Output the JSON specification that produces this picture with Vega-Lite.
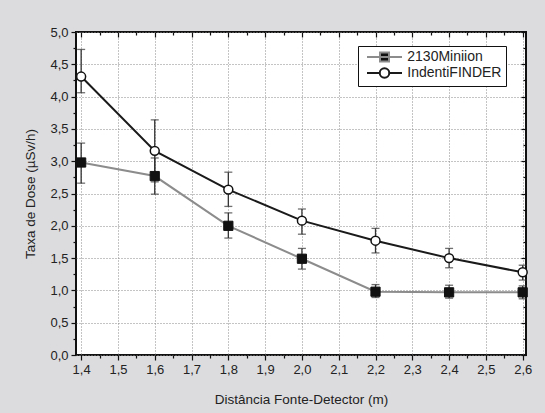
{
  "$schema": "https://vega.github.io/schema/vega-lite/v6.json",
  "width": 450,
  "height": 323,
  "autosize": {"type": "none"},
  "padding": {"left": 76, "top": 32, "right": 19, "bottom": 58},
  "background": "#dcdcde",
  "config": {
    "view": {"fill": "white", "stroke": "#111", "strokeWidth": 2},
    "font": "Liberation Sans",
    "axis": {"labelFont": "Liberation Sans", "titleFont": "Liberation Sans", "labelFontSize": 13, "titleFontSize": 13.5, "labelColor": "#222", "titleColor": "#222", "titleFontWeight": "normal", "tickColor": "#111", "tickWidth": 1.2, "domain": false}
  },
  "data": {"values": [
    {"series": "2130Miniion", "x": 1.4, "y": 2.98, "lo": 2.66, "hi": 3.28},
    {"series": "2130Miniion", "x": 1.6, "y": 2.77, "lo": 2.49, "hi": 3.05},
    {"series": "2130Miniion", "x": 1.8, "y": 2.0, "lo": 1.81, "hi": 2.2},
    {"series": "2130Miniion", "x": 2.0, "y": 1.49, "lo": 1.33, "hi": 1.65},
    {"series": "2130Miniion", "x": 2.2, "y": 0.98, "lo": 0.89, "hi": 1.09},
    {"series": "2130Miniion", "x": 2.4, "y": 0.97, "lo": 0.88, "hi": 1.08},
    {"series": "2130Miniion", "x": 2.6, "y": 0.97, "lo": 0.87, "hi": 1.07},
    {"series": "IndentiFINDER", "x": 1.4, "y": 4.31, "lo": 4.06, "hi": 4.73},
    {"series": "IndentiFINDER", "x": 1.6, "y": 3.16, "lo": 2.68, "hi": 3.64},
    {"series": "IndentiFINDER", "x": 1.8, "y": 2.56, "lo": 2.3, "hi": 2.83},
    {"series": "IndentiFINDER", "x": 2.0, "y": 2.08, "lo": 1.87, "hi": 2.26},
    {"series": "IndentiFINDER", "x": 2.2, "y": 1.77, "lo": 1.58, "hi": 1.96},
    {"series": "IndentiFINDER", "x": 2.4, "y": 1.5, "lo": 1.35, "hi": 1.65},
    {"series": "IndentiFINDER", "x": 2.6, "y": 1.28, "lo": 1.16, "hi": 1.39}
  ]},
  "resolve": {"axis": {"x": "independent", "y": "independent"}},
  "layer": [
    {
      "mark": {"type": "rule", "color": "#333", "strokeWidth": 1.3},
      "encoding": {
        "x": {"field": "x", "type": "quantitative", "scale": {"domain": [1.386, 2.609], "nice": false, "zero": false},
          "axis": {"orient": "bottom", "title": "Distância Fonte-Detector (m)", "values": [1.4,1.5,1.6,1.7,1.8,1.9,2.0,2.1,2.2,2.3,2.4,2.5,2.6], "labelExpr": "replace(format(datum.value,'.1f'),'.',',')", "tickSize": 5, "labelPadding": 3, "titlePadding": 16, "grid": true, "gridColor": "#888", "gridDash": [1, 2], "gridWidth": 1}},
        "y": {"field": "lo", "type": "quantitative", "scale": {"domain": [0, 5], "nice": false},
          "axis": {"orient": "left", "title": "Taxa de Dose (µSv/h)", "values": [0,0.5,1,1.5,2,2.5,3,3.5,4,4.5,5], "labelExpr": "replace(format(datum.value,'.1f'),'.',',')", "tickSize": 5, "labelPadding": 3, "titlePadding": 12, "grid": true, "gridColor": "#888", "gridDash": [1, 2], "gridWidth": 1}},
        "y2": {"field": "hi"}
      }
    },
    {
      "mark": {"type": "tick", "orient": "horizontal", "color": "#333", "size": 8, "thickness": 1.3},
      "encoding": {
        "x": {"field": "x", "type": "quantitative",
          "axis": {"orient": "bottom", "title": null, "labels": false, "grid": false, "tickSize": 3, "values": [1.45,1.55,1.65,1.75,1.85,1.95,2.05,2.15,2.25,2.35,2.45,2.55]}},
        "y": {"field": "lo", "type": "quantitative",
          "axis": {"orient": "left", "title": null, "labels": false, "grid": false, "tickSize": 3, "values": [0.25,0.75,1.25,1.75,2.25,2.75,3.25,3.75,4.25,4.75]}}
      }
    },
    {
      "mark": {"type": "tick", "orient": "horizontal", "color": "#333", "size": 8, "thickness": 1.3},
      "encoding": {
        "x": {"field": "x", "type": "quantitative",
          "axis": {"orient": "top", "title": null, "labels": false, "grid": false, "tickSize": -5, "values": [1.4,1.5,1.6,1.7,1.8,1.9,2.0,2.1,2.2,2.3,2.4,2.5,2.6]}},
        "y": {"field": "hi", "type": "quantitative",
          "axis": {"orient": "right", "title": null, "labels": false, "grid": false, "tickSize": -5, "values": [0,0.5,1,1.5,2,2.5,3,3.5,4,4.5,5]}}
      }
    },
    {
      "mark": {"type": "line", "strokeWidth": 2},
      "encoding": {
        "x": {"field": "x", "type": "quantitative",
          "axis": {"orient": "top", "title": null, "labels": false, "grid": false, "tickSize": -3, "values": [1.45,1.55,1.65,1.75,1.85,1.95,2.05,2.15,2.25,2.35,2.45,2.55]}},
        "y": {"field": "y", "type": "quantitative",
          "axis": {"orient": "right", "title": null, "labels": false, "grid": false, "tickSize": -3, "values": [0.25,0.75,1.25,1.75,2.25,2.75,3.25,3.75,4.25,4.75]}},
        "stroke": {"field": "series", "type": "nominal", "scale": {"domain": ["2130Miniion", "IndentiFINDER"], "range": ["#8c8c8c", "#1a1a1a"]},
          "legend": {"title": null, "orient": "none", "legendX": 282, "legendY": 14, "padding": 4, "strokeColor": "#111", "fillColor": "white", "labelFont": "Liberation Sans", "labelFontSize": 14, "labelColor": "#222", "symbolOffset": 15.5, "labelOffset": 15.8, "rowPadding": -3,
            "encode": {"symbols": {"update": {
              "fill": {"signal": "datum.value == '2130Miniion' ? '#111' : '#fff'"},
              "stroke": {"signal": "datum.value == '2130Miniion' ? '#8c8c8c' : '#111'"},
              "strokeWidth": {"value": 2},
              "size": {"value": 100},
              "opacity": {"value": 1}
            }}}}}
      }
    },
    {
      "mark": {"type": "point", "filled": true, "opacity": 1},
      "encoding": {
        "x": {"field": "x", "type": "quantitative", "axis": null},
        "y": {"field": "y", "type": "quantitative", "axis": null},
        "fill": {"field": "series", "type": "nominal", "scale": {"domain": ["2130Miniion", "IndentiFINDER"], "range": ["#111", "#ffffff"]},
          "legend": {"title": null, "orient": "none", "legendX": 282, "legendY": 14}},
        "shape": {"field": "series", "type": "nominal", "scale": {"domain": ["2130Miniion", "IndentiFINDER"], "range": ["M-3.5,0H3.5M-0.9,-0.9H0.9V0.9H-0.9Z", "M-3.5,0H-0.95M0.95,0H3.5M-0.95,0A0.95,0.95 0 1,1 0.95,0A0.95,0.95 0 1,1 -0.95,0Z"]},
          "legend": {"title": null, "orient": "none", "legendX": 282, "legendY": 14}},
        "size": {"value": 0}
      }
    },
    {
      "transform": [{"filter": "datum.series == '2130Miniion'"}],
      "mark": {"type": "point", "shape": "square", "filled": true, "fill": "#111", "stroke": "#111", "strokeWidth": 1, "size": 85, "opacity": 1},
      "encoding": {
        "x": {"field": "x", "type": "quantitative", "axis": null},
        "y": {"field": "y", "type": "quantitative", "axis": null}
      }
    },
    {
      "transform": [{"filter": "datum.series == 'IndentiFINDER'"}],
      "mark": {"type": "point", "shape": "circle", "filled": false, "fill": "#ffffff", "stroke": "#111", "strokeWidth": 1.5, "size": 80, "opacity": 1},
      "encoding": {
        "x": {"field": "x", "type": "quantitative", "axis": null},
        "y": {"field": "y", "type": "quantitative", "axis": null}
      }
    }
  ]
}
